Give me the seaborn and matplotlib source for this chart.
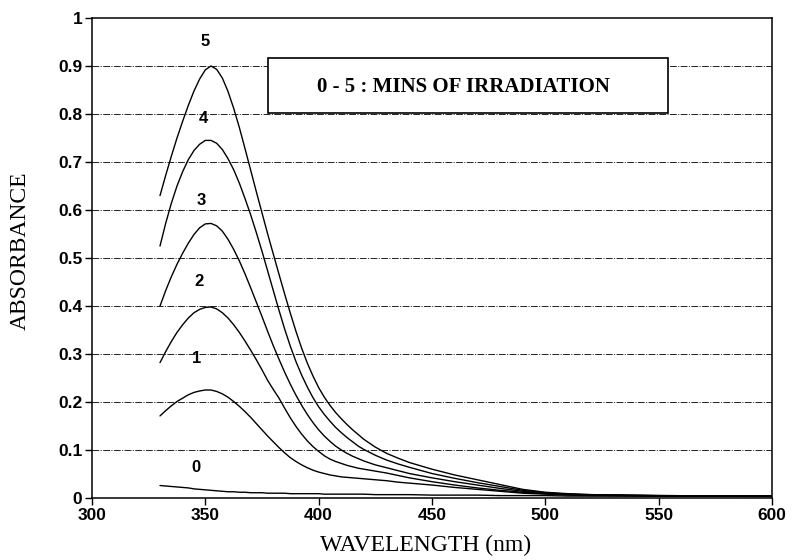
import matplotlib
matplotlib.use("Agg")
import matplotlib.pyplot as plt
import seaborn as sns
import pandas as pd
from matplotlib.patches import Rectangle

# ---- data ----
wavelength = [330, 332.5, 335, 337.5, 340, 342.5, 345, 347.5, 350, 352.5, 355, 357.5,
              360, 362.5, 365, 367.5, 370, 372.5, 375, 377.5, 380, 382.5, 385, 387.5,
              390, 392.5, 395, 397.5, 400, 402.5, 405, 407.5, 410, 412.5, 415, 417.5,
              420, 425, 430, 435, 440, 450, 460, 470, 480, 490, 500, 510, 520, 550, 600]

abs_0 = [0.026, 0.025, 0.024, 0.023, 0.022, 0.021, 0.019, 0.018, 0.017, 0.016, 0.015, 0.014,
         0.013, 0.013, 0.012, 0.012, 0.011, 0.011, 0.011, 0.010, 0.010, 0.010, 0.010, 0.009,
         0.009, 0.009, 0.009, 0.009, 0.009, 0.008, 0.008, 0.008, 0.008, 0.008, 0.008, 0.008,
         0.008, 0.007, 0.007, 0.007, 0.007, 0.006, 0.006, 0.006, 0.005, 0.005, 0.005, 0.004,
         0.004, 0.004, 0.004]
abs_1 = [0.171, 0.182, 0.192, 0.201, 0.208, 0.215, 0.220, 0.223, 0.225, 0.225, 0.222, 0.217,
         0.210, 0.201, 0.191, 0.180, 0.168, 0.155, 0.142, 0.129, 0.117, 0.105, 0.094, 0.084,
         0.076, 0.069, 0.063, 0.058, 0.054, 0.051, 0.048, 0.046, 0.044, 0.043, 0.042, 0.041,
         0.040, 0.038, 0.036, 0.033, 0.031, 0.027, 0.022, 0.018, 0.014, 0.010, 0.008, 0.006,
         0.005, 0.004, 0.003]
abs_2 = [0.282, 0.305, 0.326, 0.345, 0.361, 0.375, 0.386, 0.393, 0.397, 0.398, 0.394, 0.386,
         0.375, 0.361, 0.345, 0.327, 0.308, 0.288, 0.267, 0.245, 0.226, 0.208, 0.187, 0.167,
         0.149, 0.133, 0.119, 0.107, 0.097, 0.088, 0.081, 0.076, 0.072, 0.068, 0.065, 0.062,
         0.060, 0.056, 0.052, 0.047, 0.042, 0.034, 0.027, 0.021, 0.016, 0.012, 0.009, 0.007,
         0.006, 0.004, 0.004]
abs_3 = [0.400, 0.432, 0.461, 0.487, 0.510, 0.531, 0.549, 0.563, 0.571, 0.572, 0.567, 0.556,
         0.539, 0.518, 0.494, 0.467, 0.438, 0.408, 0.378, 0.347, 0.317, 0.289, 0.262, 0.237,
         0.214, 0.193, 0.174, 0.157, 0.142, 0.129, 0.118, 0.108, 0.100, 0.093, 0.087, 0.082,
         0.077, 0.069, 0.063, 0.057, 0.051, 0.042, 0.034, 0.027, 0.020, 0.014, 0.010, 0.008,
         0.006, 0.005, 0.004]
abs_4 = [0.525, 0.572, 0.614, 0.650, 0.680, 0.705, 0.724, 0.737, 0.745, 0.745, 0.739, 0.726,
         0.707, 0.684, 0.656, 0.624, 0.590, 0.553, 0.514, 0.473, 0.432, 0.391, 0.352, 0.316,
         0.284, 0.256, 0.231, 0.209, 0.190, 0.174, 0.160, 0.147, 0.136, 0.126, 0.117, 0.108,
         0.101, 0.089, 0.079, 0.071, 0.064, 0.051, 0.041, 0.032, 0.024, 0.016, 0.011, 0.008,
         0.007, 0.005, 0.004]
abs_5 = [0.630, 0.672, 0.712, 0.750, 0.785, 0.818, 0.848, 0.873, 0.892, 0.900, 0.893, 0.875,
         0.847, 0.812, 0.772, 0.728, 0.683, 0.638, 0.594, 0.550, 0.508, 0.466, 0.425, 0.385,
         0.347, 0.312, 0.281, 0.254, 0.230, 0.210, 0.193, 0.178, 0.165, 0.153, 0.142, 0.132,
         0.122, 0.106, 0.093, 0.083, 0.074, 0.060, 0.048, 0.038, 0.028, 0.018, 0.012, 0.009,
         0.007, 0.005, 0.004]

minutes = ["0", "1", "2", "3", "4", "5"]
series = [abs_0, abs_1, abs_2, abs_3, abs_4, abs_5]

label_x = [346, 346, 347, 348, 349, 350]
label_y = [0.063, 0.29, 0.45, 0.62, 0.79, 0.95]

x_ticks = [300, 350, 400, 450, 500, 550, 600]
y_ticks = [0, 0.1, 0.2, 0.3, 0.4, 0.5, 0.6, 0.7, 0.8, 0.9, 1]
y_tick_labels = ["0", "0.1", "0.2", "0.3", "0.4", "0.5", "0.6", "0.7", "0.8", "0.9", "1"]

legend_text = "0 - 5 : MINS OF IRRADIATION"

for s in series:
    assert len(s) == len(wavelength)

# ---- build long table ----
rows = []
for m, vals in zip(minutes, series):
    for w, a in zip(wavelength, vals):
        rows.append({"wavelength": w, "absorbance": a, "minutes": m})
df = pd.DataFrame(rows)

sns.set_style("ticks")
plt.rcParams["font.family"] = ["Liberation Sans", "DejaVu Sans"]
plt.rcParams["text.color"] = "black"
plt.rcParams["axes.labelcolor"] = "black"
plt.rcParams["xtick.color"] = "black"
plt.rcParams["ytick.color"] = "black"
serif = ["Liberation Serif", "DejaVu Serif"]

fig = plt.figure(figsize=(7.92, 5.6), dpi=100)
ax = fig.add_axes([92 / 792, 1 - 498 / 560, 680 / 792, 480 / 560])

sns.lineplot(data=df, x="wavelength", y="absorbance", units="minutes",
             estimator=None, color="black", linewidth=1.0, ax=ax,
             sort=False, zorder=3)

ax.set_xlim(300, 600)
ax.set_ylim(0, 1)
ax.set_xticks(x_ticks)
ax.set_xticklabels([str(t) for t in x_ticks], fontsize=12.5, fontweight="bold", color="black")
ax.set_yticks(y_ticks)
ax.set_yticklabels(y_tick_labels, fontsize=12.5, fontweight="bold", color="black")
ax.tick_params(axis="both", direction="out", length=5, width=1.0, color="black",
               labelcolor="black", pad=2)

for y in y_ticks[1:-1]:
    ax.axhline(y, color="#222222", linewidth=0.7, linestyle=(0, (7, 1.5, 1, 1.5)), zorder=1)

for sp in ax.spines.values():
    sp.set_visible(True)
    sp.set_color("black")
    sp.set_linewidth(1.1)

ax.set_xlabel("WAVELENGTH (nm)", fontsize=17, family=serif, color="black")
ax.set_ylabel("ABSORBANCE", fontsize=17, family=serif, color="black")
ax.xaxis.set_label_coords((426 - 92) / 680, (498 - 535) / 480)
ax.yaxis.set_label_coords((31 - 92) / 680, (498 - 251) / 480)

for m, lx, ly in zip(minutes, label_x, label_y):
    ax.text(lx, ly, m, fontsize=12, fontweight="bold", ha="center", va="center",
            color="black", zorder=4)

rect = Rectangle((377.6, 0.802), 554 - 377.6, 0.917 - 0.802, facecolor="white",
                 edgecolor="black", linewidth=1.2, zorder=2)
ax.add_patch(rect)
ax.text((377.6 + 554) / 2 - 2, 0.856, legend_text, fontsize=15, fontweight="bold",
        family=serif, ha="center", va="center", color="black", zorder=4)

if ax.get_legend() is not None:
    ax.get_legend().remove()

fig.savefig("out.png", dpi=100)
